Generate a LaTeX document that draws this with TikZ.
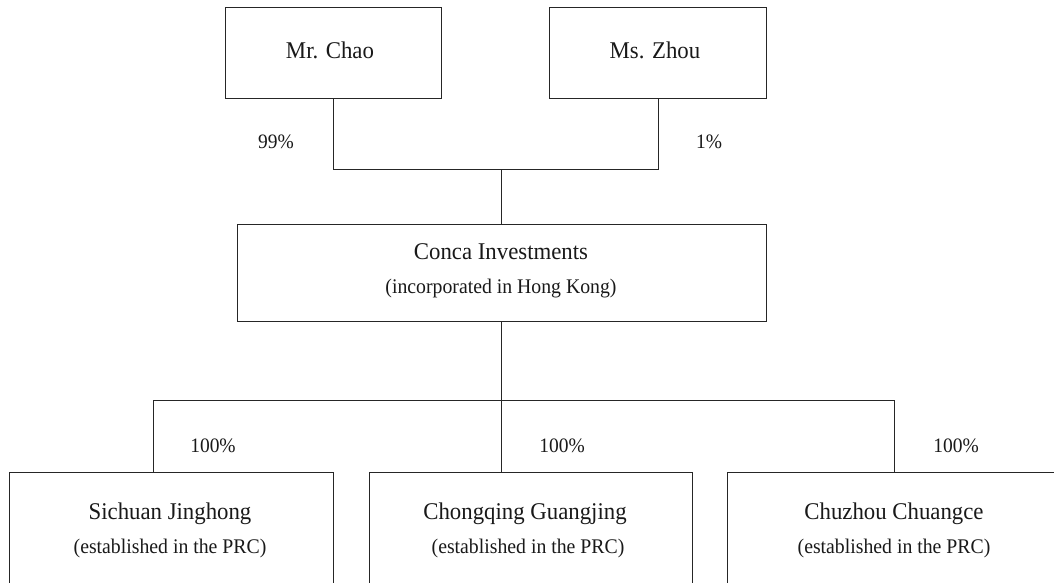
\documentclass[tikz,border=0pt]{standalone}
\usepackage{fontspec}
\setmainfont[FakeStretch=0.95]{Liberation Serif}
\begin{document}
\begin{tikzpicture}[x=1pt,y=-1pt,
  boxstyle/.style={draw=black!85, line width=1.3pt, inner sep=0pt, anchor=north west},
  link/.style={draw=black!85, line width=0.9pt},
  mainlbl/.style={anchor=base, inner sep=0pt, font=\fontsize{24}{28}\selectfont, text=black!90},
  sublbl/.style={anchor=base, inner sep=0pt, font=\fontsize{20.8}{24}\selectfont, text=black!90},
  pctlbl/.style={anchor=base, inner sep=0pt, font=\fontsize{20.5}{24}\selectfont, text=black!90}]
\useasboundingbox (0,0) rectangle (1054,583);
\clip (0,0) rectangle (1054,583);
% boxes
\node[boxstyle, minimum width=216pt, minimum height=91pt] (chao) at (225,7) {};
\node[boxstyle, minimum width=217pt, minimum height=91pt] (zhou) at (549,7) {};
\node[boxstyle, minimum width=529pt, minimum height=97pt] (conca) at (237,224) {};
\node[boxstyle, minimum width=324pt, minimum height=150pt] (sich) at (9,472) {};
\node[boxstyle, minimum width=323pt, minimum height=150pt] (chong) at (369,472) {};
\node[boxstyle, minimum width=334pt, minimum height=150pt] (chuz) at (727,472) {};
% texts
\node[mainlbl] (tchao) at (330,59) {Mr. Chao};
\node[mainlbl] (tzhou) at (655,59) {Ms. Zhou};
\node[pctlbl] (p99) at (276,149) {99\%};
\node[pctlbl] (p1) at (709,149) {1\%};
\node[mainlbl] (tconca) at (501,259) {Conca Investments};
\node[sublbl] (tconcas) at (501,293) {(incorporated in Hong Kong)};
\node[pctlbl] (pa) at (213,452) {100\%};
\node[pctlbl] (pb) at (562,452) {100\%};
\node[pctlbl] (pc) at (956,452) {100\%};
\node[mainlbl] (tsich) at (170,519) {Sichuan Jinghong};
\node[sublbl] (tsichs) at (170,553) {(established in the PRC)};
\node[mainlbl] (tchong) at (525,519) {Chongqing Guangjing};
\node[sublbl] (tchongs) at (528,553) {(established in the PRC)};
\node[mainlbl] (tchuz) at (894,519) {Chuzhou Chuangce};
\node[sublbl] (tchuzs) at (894,553) {(established in the PRC)};
% connectors
\coordinate (j1) at (501,169);
\coordinate (j2) at (501,400);
\coordinate (ca) at (153,400);
\coordinate (cc) at (894,400);
\draw[link] (chao.south) -- (chao.south |- j1) -- (zhou.south |- j1) -- (zhou.south);
\draw[link] (j1) -- (j1 |- conca.north);
\draw[link] (j2 |- conca.south) -- (j2);
\draw[link] (ca) -- (cc);
\draw[link] (ca) -- (ca |- sich.north);
\draw[link] (j2) -- (j2 |- chong.north);
\draw[link] (cc) -- (cc |- chuz.north);
\end{tikzpicture}
\end{document}
